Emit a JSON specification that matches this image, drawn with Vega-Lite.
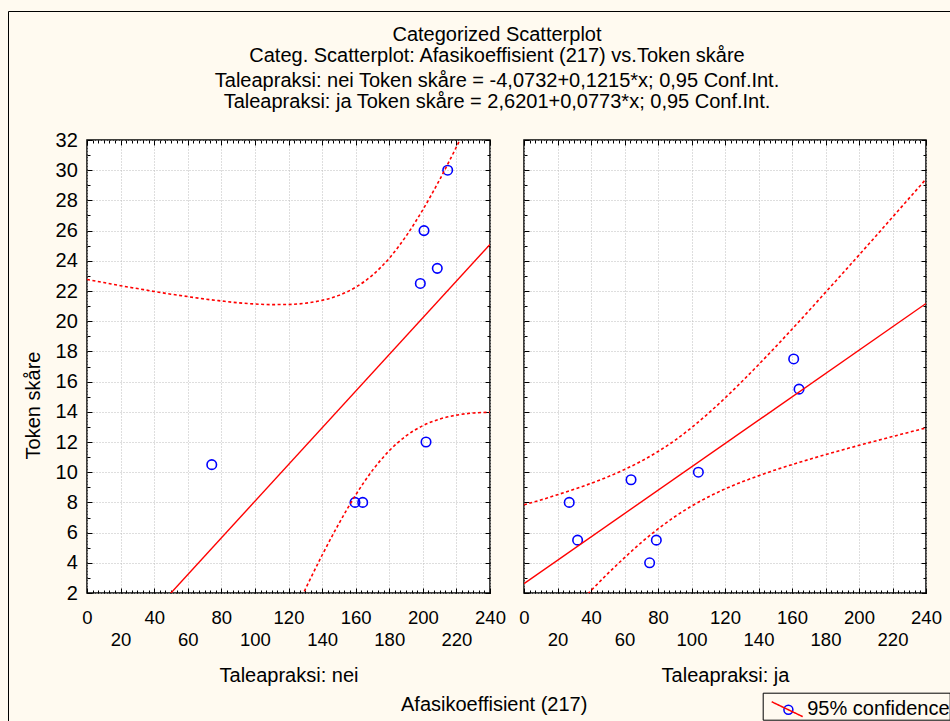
{
  "$schema": "https://vega.github.io/schema/vega-lite/v6.json",
  "background": "#fffaf0",
  "autosize": {"type": "none"},
  "padding": {"left": 87, "top": 140, "right": 863, "bottom": 581},
  "title": {
    "text": ["Categorized Scatterplot", "Categ. Scatterplot: Afasikoeffisient (217) vs.Token skåre"],
    "subtitle": ["Taleapraksi: nei Token skåre = -4,0732+0,1215*x; 0,95 Conf.Int.", "Taleapraksi: ja Token skåre = 2,6201+0,0773*x; 0,95 Conf.Int."],
    "anchor": "start", "frame": "group", "align": "center", "dx": 410, "offset": -102.5,
    "font": "Liberation Sans", "fontSize": 20, "fontWeight": "normal", "color": "black", "lineHeight": 21,
    "subtitleFont": "Liberation Sans", "subtitleFontSize": 20, "subtitleColor": "black", "subtitleLineHeight": 21, "subtitlePadding": 5
  },
  "datasets": {
    "pts": [
      {"panel": "nei", "afasi": 74.3, "token": 10.5},
      {"panel": "nei", "afasi": 159.6, "token": 8},
      {"panel": "nei", "afasi": 164.2, "token": 8},
      {"panel": "nei", "afasi": 201.9, "token": 12},
      {"panel": "nei", "afasi": 198.5, "token": 22.5},
      {"panel": "nei", "afasi": 200.7, "token": 26},
      {"panel": "nei", "afasi": 208.6, "token": 23.5},
      {"panel": "nei", "afasi": 214.8, "token": 30},
      {"panel": "ja", "afasi": 27, "token": 8},
      {"panel": "ja", "afasi": 32, "token": 5.5},
      {"panel": "ja", "afasi": 63.9, "token": 9.5},
      {"panel": "ja", "afasi": 75, "token": 4},
      {"panel": "ja", "afasi": 79, "token": 5.5},
      {"panel": "ja", "afasi": 104.1, "token": 10},
      {"panel": "ja", "afasi": 161, "token": 17.5},
      {"panel": "ja", "afasi": 164.2, "token": 15.5}
    ],
    "fit": [
      {"panel": "nei", "afasi": 0, "token": -4.0732},
      {"panel": "nei", "afasi": 240, "token": 25.0868},
      {"panel": "ja", "afasi": 0, "token": 2.6201},
      {"panel": "ja", "afasi": 240, "token": 21.1721}
    ],
    "band": [
      {"panel": "nei", "bound": "upper", "afasi": 0, "token": 22.76},
      {"panel": "nei", "bound": "upper", "afasi": 10, "token": 22.56},
      {"panel": "nei", "bound": "upper", "afasi": 20, "token": 22.35},
      {"panel": "nei", "bound": "upper", "afasi": 30, "token": 22.16},
      {"panel": "nei", "bound": "upper", "afasi": 40, "token": 21.97},
      {"panel": "nei", "bound": "upper", "afasi": 50, "token": 21.79},
      {"panel": "nei", "bound": "upper", "afasi": 60, "token": 21.63},
      {"panel": "nei", "bound": "upper", "afasi": 70, "token": 21.47},
      {"panel": "nei", "bound": "upper", "afasi": 80, "token": 21.34},
      {"panel": "nei", "bound": "upper", "afasi": 90, "token": 21.22},
      {"panel": "nei", "bound": "upper", "afasi": 100, "token": 21.14},
      {"panel": "nei", "bound": "upper", "afasi": 110, "token": 21.10},
      {"panel": "nei", "bound": "upper", "afasi": 120, "token": 21.11},
      {"panel": "nei", "bound": "upper", "afasi": 130, "token": 21.19},
      {"panel": "nei", "bound": "upper", "afasi": 140, "token": 21.38},
      {"panel": "nei", "bound": "upper", "afasi": 150, "token": 21.71},
      {"panel": "nei", "bound": "upper", "afasi": 160, "token": 22.25},
      {"panel": "nei", "bound": "upper", "afasi": 170, "token": 23.05},
      {"panel": "nei", "bound": "upper", "afasi": 180, "token": 24.17},
      {"panel": "nei", "bound": "upper", "afasi": 190, "token": 25.63},
      {"panel": "nei", "bound": "upper", "afasi": 200, "token": 27.38},
      {"panel": "nei", "bound": "upper", "afasi": 210, "token": 29.37},
      {"panel": "nei", "bound": "upper", "afasi": 220, "token": 31.54},
      {"panel": "nei", "bound": "upper", "afasi": 230, "token": 33.83},
      {"panel": "nei", "bound": "lower", "afasi": 110, "token": -2.51},
      {"panel": "nei", "bound": "lower", "afasi": 120, "token": -0.09},
      {"panel": "nei", "bound": "lower", "afasi": 130, "token": 2.25},
      {"panel": "nei", "bound": "lower", "afasi": 140, "token": 4.50},
      {"panel": "nei", "bound": "lower", "afasi": 150, "token": 6.59},
      {"panel": "nei", "bound": "lower", "afasi": 160, "token": 8.49},
      {"panel": "nei", "bound": "lower", "afasi": 170, "token": 10.12},
      {"panel": "nei", "bound": "lower", "afasi": 180, "token": 11.42},
      {"panel": "nei", "bound": "lower", "afasi": 190, "token": 12.40},
      {"panel": "nei", "bound": "lower", "afasi": 200, "token": 13.08},
      {"panel": "nei", "bound": "lower", "afasi": 210, "token": 13.52},
      {"panel": "nei", "bound": "lower", "afasi": 220, "token": 13.78},
      {"panel": "nei", "bound": "lower", "afasi": 230, "token": 13.92},
      {"panel": "nei", "bound": "lower", "afasi": 240, "token": 13.97},
      {"panel": "ja", "bound": "upper", "afasi": 0, "token": 7.84},
      {"panel": "ja", "bound": "upper", "afasi": 10, "token": 8.16},
      {"panel": "ja", "bound": "upper", "afasi": 20, "token": 8.51},
      {"panel": "ja", "bound": "upper", "afasi": 30, "token": 8.87},
      {"panel": "ja", "bound": "upper", "afasi": 40, "token": 9.26},
      {"panel": "ja", "bound": "upper", "afasi": 50, "token": 9.69},
      {"panel": "ja", "bound": "upper", "afasi": 60, "token": 10.18},
      {"panel": "ja", "bound": "upper", "afasi": 70, "token": 10.73},
      {"panel": "ja", "bound": "upper", "afasi": 80, "token": 11.37},
      {"panel": "ja", "bound": "upper", "afasi": 90, "token": 12.10},
      {"panel": "ja", "bound": "upper", "afasi": 100, "token": 12.95},
      {"panel": "ja", "bound": "upper", "afasi": 110, "token": 13.89},
      {"panel": "ja", "bound": "upper", "afasi": 120, "token": 14.91},
      {"panel": "ja", "bound": "upper", "afasi": 130, "token": 15.99},
      {"panel": "ja", "bound": "upper", "afasi": 140, "token": 17.12},
      {"panel": "ja", "bound": "upper", "afasi": 150, "token": 18.28},
      {"panel": "ja", "bound": "upper", "afasi": 160, "token": 19.47},
      {"panel": "ja", "bound": "upper", "afasi": 170, "token": 20.68},
      {"panel": "ja", "bound": "upper", "afasi": 180, "token": 21.91},
      {"panel": "ja", "bound": "upper", "afasi": 190, "token": 23.14},
      {"panel": "ja", "bound": "upper", "afasi": 200, "token": 24.38},
      {"panel": "ja", "bound": "upper", "afasi": 210, "token": 25.63},
      {"panel": "ja", "bound": "upper", "afasi": 220, "token": 26.89},
      {"panel": "ja", "bound": "upper", "afasi": 230, "token": 28.15},
      {"panel": "ja", "bound": "upper", "afasi": 240, "token": 29.41},
      {"panel": "ja", "bound": "lower", "afasi": 20, "token": -0.17},
      {"panel": "ja", "bound": "lower", "afasi": 30, "token": 1.01},
      {"panel": "ja", "bound": "lower", "afasi": 40, "token": 2.16},
      {"panel": "ja", "bound": "lower", "afasi": 50, "token": 3.28},
      {"panel": "ja", "bound": "lower", "afasi": 60, "token": 4.34},
      {"panel": "ja", "bound": "lower", "afasi": 70, "token": 5.34},
      {"panel": "ja", "bound": "lower", "afasi": 80, "token": 6.24},
      {"panel": "ja", "bound": "lower", "afasi": 90, "token": 7.05},
      {"panel": "ja", "bound": "lower", "afasi": 100, "token": 7.75},
      {"panel": "ja", "bound": "lower", "afasi": 110, "token": 8.36},
      {"panel": "ja", "bound": "lower", "afasi": 120, "token": 8.89},
      {"panel": "ja", "bound": "lower", "afasi": 130, "token": 9.35},
      {"panel": "ja", "bound": "lower", "afasi": 140, "token": 9.76},
      {"panel": "ja", "bound": "lower", "afasi": 150, "token": 10.15},
      {"panel": "ja", "bound": "lower", "afasi": 160, "token": 10.50},
      {"panel": "ja", "bound": "lower", "afasi": 170, "token": 10.84},
      {"panel": "ja", "bound": "lower", "afasi": 180, "token": 11.16},
      {"panel": "ja", "bound": "lower", "afasi": 190, "token": 11.47},
      {"panel": "ja", "bound": "lower", "afasi": 200, "token": 11.78},
      {"panel": "ja", "bound": "lower", "afasi": 210, "token": 12.07},
      {"panel": "ja", "bound": "lower", "afasi": 220, "token": 12.36},
      {"panel": "ja", "bound": "lower", "afasi": 230, "token": 12.65},
      {"panel": "ja", "bound": "lower", "afasi": 240, "token": 12.93}
    ]
  },
  "spacing": 34,
  "bounds": "flush",
  "resolve": {"scale": {"color": "independent", "stroke": "independent"}, "legend": {"color": "independent", "stroke": "independent"}},
  "hconcat": [
    {
      "width": 403,
      "height": 453,
      "resolve": {"axis": {"x": "independent", "y": "independent"}},
      "layer": [
        {
          "data": {"name": "pts"},
          "transform": [{"filter": "datum.panel === 'nei'"}],
          "mark": {"type": "point", "shape": "circle", "filled": false, "stroke": "#0000ff", "strokeWidth": 1.6, "size": 90, "opacity": 1},
          "encoding": {
            "x": {"field": "afasi", "type": "quantitative", "scale": {"domain": [0, 240], "nice": false, "zero": false},
              "axis": {"orient": "bottom", "values": [0, 20, 40, 60, 80, 100, 120, 140, 160, 180, 200, 220, 240], "format": "d", "labelExpr": "datum.value % 40 == 0 ? datum.label : ''", "tickSize": -5, "labelPadding": 20.7, "grid": true,
                "title": "Taleapraksi: nei", "titleX": 201.5, "titleY": 88.7, "titleBaseline": "alphabetic", "titleAlign": "center"}},
            "y": {"field": "token", "type": "quantitative", "scale": {"domain": [2, 32], "nice": false, "zero": false},
              "axis": {"orient": "left", "values": [2, 4, 6, 8, 10, 12, 14, 16, 18, 20, 22, 24, 26, 28, 30, 32], "format": "d", "tickSize": -5, "labelPadding": 14.7, "labelFontSize": 20, "grid": true,
                "title": "Token skåre", "titleFontSize": 20, "titleX": -54, "titleY": 265, "titleAngle": -90, "titleAlign": "center", "titleBaseline": "middle"}}
          }
        },
        {
          "data": {"name": "fit"},
          "transform": [{"filter": "datum.panel === 'nei'"}],
          "mark": {"type": "line", "color": "#ff0000", "strokeWidth": 1.4, "clip": true},
          "encoding": {
            "x": {"field": "afasi", "type": "quantitative", "axis": {"orient": "top", "values": [0, 20, 40, 60, 80, 100, 120, 140, 160, 180, 200, 220, 240], "labels": false, "tickSize": -5, "grid": false, "title": null}},
            "y": {"field": "token", "type": "quantitative", "axis": {"orient": "right", "values": [2, 4, 6, 8, 10, 12, 14, 16, 18, 20, 22, 24, 26, 28, 30, 32], "labels": false, "tickSize": -5, "grid": false, "title": null}}
          }
        },
        {
          "data": {"name": "band"},
          "transform": [{"filter": "datum.panel === 'nei' && datum.bound === 'upper'"}],
          "mark": {"type": "line", "strokeDash": [3, 2.5], "strokeWidth": 1.6, "clip": true, "interpolate": "monotone"},
          "encoding": {
            "x": {"field": "afasi", "type": "quantitative", "axis": {"orient": "bottom", "values": [0, 3.333, 6.667, 10, 13.333, 16.667, 20, 23.333, 26.667, 30, 33.333, 36.667, 40, 43.333, 46.667, 50, 53.333, 56.667, 60, 63.333, 66.667, 70, 73.333, 76.667, 80, 83.333, 86.667, 90, 93.333, 96.667, 100, 103.333, 106.667, 110, 113.333, 116.667, 120, 123.333, 126.667, 130, 133.333, 136.667, 140, 143.333, 146.667, 150, 153.333, 156.667, 160, 163.333, 166.667, 170, 173.333, 176.667, 180, 183.333, 186.667, 190, 193.333, 196.667, 200, 203.333, 206.667, 210, 213.333, 216.667, 220, 223.333, 226.667, 230, 233.333, 236.667, 240],
              "format": "d", "labelExpr": "datum.value % 40 == 20 ? datum.label : ''", "tickSize": -3, "labelPadding": 40.4, "grid": false,
              "title": "Afasikoeffisient (217)", "titleFontSize": 20, "titleX": 406.7, "titleY": 117, "titleBaseline": "alphabetic", "titleAlign": "center"}},
            "y": {"field": "token", "type": "quantitative", "axis": {"orient": "left", "values": [2, 3, 4, 5, 6, 7, 8, 9, 10, 11, 12, 13, 14, 15, 16, 17, 18, 19, 20, 21, 22, 23, 24, 25, 26, 27, 28, 29, 30, 31, 32], "labels": false, "tickSize": -3, "grid": false, "title": null}},
            "color": {"datum": "95% confidence", "scale": {"range": ["#ff0000"]},
              "legend": {"orient": "none", "legendX": -79, "legendY": -129, "title": null, "padding": 480, "strokeColor": "black", "fillColor": null, "symbolOpacity": 0, "labelExpr": "''"}}
          }
        },
        {
          "data": {"name": "band"},
          "transform": [{"filter": "datum.panel === 'nei' && datum.bound === 'lower'"}],
          "mark": {"type": "line", "strokeDash": [3, 2.5], "strokeWidth": 1.6, "clip": true, "interpolate": "monotone"},
          "encoding": {
            "x": {"field": "afasi", "type": "quantitative", "axis": {"orient": "top", "values": [0, 3.333, 6.667, 10, 13.333, 16.667, 20, 23.333, 26.667, 30, 33.333, 36.667, 40, 43.333, 46.667, 50, 53.333, 56.667, 60, 63.333, 66.667, 70, 73.333, 76.667, 80, 83.333, 86.667, 90, 93.333, 96.667, 100, 103.333, 106.667, 110, 113.333, 116.667, 120, 123.333, 126.667, 130, 133.333, 136.667, 140, 143.333, 146.667, 150, 153.333, 156.667, 160, 163.333, 166.667, 170, 173.333, 176.667, 180, 183.333, 186.667, 190, 193.333, 196.667, 200, 203.333, 206.667, 210, 213.333, 216.667, 220, 223.333, 226.667, 230, 233.333, 236.667, 240],
              "labels": false, "tickSize": -3, "grid": false, "title": null}},
            "y": {"field": "token", "type": "quantitative", "axis": {"orient": "right", "values": [2, 3, 4, 5, 6, 7, 8, 9, 10, 11, 12, 13, 14, 15, 16, 17, 18, 19, 20, 21, 22, 23, 24, 25, 26, 27, 28, 29, 30, 31, 32], "labels": false, "tickSize": -3, "grid": false, "title": null}},
            "color": {"datum": "95% confidence", "scale": {"range": ["#ff0000"]},
              "legend": {"orient": "none", "legendX": -79, "legendY": -129, "title": null, "padding": 480, "strokeColor": "black", "fillColor": null, "symbolOpacity": 0, "labelExpr": "''"}}
          }
        }
      ]
    },
    {
      "width": 402,
      "height": 453,
      "resolve": {"axis": {"x": "independent", "y": "independent"}},
      "layer": [
        {
          "data": {"name": "pts"},
          "transform": [{"filter": "datum.panel === 'ja'"}],
          "mark": {"type": "point", "shape": "circle", "filled": false, "strokeWidth": 1.6, "size": 90, "opacity": 1},
          "encoding": {
            "x": {"field": "afasi", "type": "quantitative", "scale": {"domain": [0, 240], "nice": false, "zero": false},
              "axis": {"orient": "bottom", "values": [0, 20, 40, 60, 80, 100, 120, 140, 160, 180, 200, 220, 240], "format": "d", "labelExpr": "datum.value % 40 == 0 ? datum.label : ''", "tickSize": -5, "labelPadding": 20.7, "grid": true,
                "title": "Taleapraksi: ja", "titleX": 201, "titleY": 88.7, "titleBaseline": "alphabetic", "titleAlign": "center"}},
            "y": {"field": "token", "type": "quantitative", "scale": {"domain": [2, 32], "nice": false, "zero": false},
              "axis": {"orient": "left", "values": [2, 4, 6, 8, 10, 12, 14, 16, 18, 20, 22, 24, 26, 28, 30, 32], "labels": false, "tickSize": -5, "grid": true, "title": null}},
            "stroke": {"datum": "points", "scale": {"range": ["#0000ff"]},
              "legend": {"orient": "none", "legendX": 254.4, "legendY": 559.8, "title": null, "padding": 0, "symbolType": "circle", "symbolSize": 80, "symbolStrokeWidth": 1.5, "symbolFillColor": "#fffaf0", "labelExpr": "''"}}
          }
        },
        {
          "data": {"name": "fit"},
          "transform": [{"filter": "datum.panel === 'ja'"}],
          "mark": {"type": "line", "color": "#ff0000", "strokeWidth": 1.4, "clip": true},
          "encoding": {
            "x": {"field": "afasi", "type": "quantitative", "axis": {"orient": "top", "values": [0, 20, 40, 60, 80, 100, 120, 140, 160, 180, 200, 220, 240], "labels": false, "tickSize": -5, "grid": false, "title": null}},
            "y": {"field": "token", "type": "quantitative", "axis": {"orient": "right", "values": [2, 4, 6, 8, 10, 12, 14, 16, 18, 20, 22, 24, 26, 28, 30, 32], "labels": false, "tickSize": -5, "grid": false, "title": null}}
          }
        },
        {
          "data": {"name": "band"},
          "transform": [{"filter": "datum.panel === 'ja' && datum.bound === 'upper'"}],
          "mark": {"type": "line", "strokeDash": [3, 2.5], "strokeWidth": 1.6, "clip": true, "interpolate": "monotone"},
          "encoding": {
            "x": {"field": "afasi", "type": "quantitative", "axis": {"orient": "bottom", "values": [0, 3.333, 6.667, 10, 13.333, 16.667, 20, 23.333, 26.667, 30, 33.333, 36.667, 40, 43.333, 46.667, 50, 53.333, 56.667, 60, 63.333, 66.667, 70, 73.333, 76.667, 80, 83.333, 86.667, 90, 93.333, 96.667, 100, 103.333, 106.667, 110, 113.333, 116.667, 120, 123.333, 126.667, 130, 133.333, 136.667, 140, 143.333, 146.667, 150, 153.333, 156.667, 160, 163.333, 166.667, 170, 173.333, 176.667, 180, 183.333, 186.667, 190, 193.333, 196.667, 200, 203.333, 206.667, 210, 213.333, 216.667, 220, 223.333, 226.667, 230, 233.333, 236.667, 240],
              "format": "d", "labelExpr": "datum.value % 40 == 20 ? datum.label : ''", "tickSize": -3, "labelPadding": 40.4, "grid": false, "title": null}},
            "y": {"field": "token", "type": "quantitative", "axis": {"orient": "left", "values": [2, 3, 4, 5, 6, 7, 8, 9, 10, 11, 12, 13, 14, 15, 16, 17, 18, 19, 20, 21, 22, 23, 24, 25, 26, 27, 28, 29, 30, 31, 32], "labels": false, "tickSize": -3, "grid": false, "title": null}},
            "color": {"datum": "95% confidence", "scale": {"range": ["#ff0000"]},
              "legend": {"orient": "none", "legendX": 238.7, "legendY": 552.7, "title": null, "padding": 0, "strokeColor": "black", "fillColor": null, "symbolType": "M-1,-0.48L1,0.48", "symbolSize": 961, "symbolStrokeWidth": 1.5, "symbolDash": [1, 0], "symbolOffset": 8, "labelOffset": 3.5, "labelFontSize": 20}}
          }
        },
        {
          "data": {"name": "band"},
          "transform": [{"filter": "datum.panel === 'ja' && datum.bound === 'lower'"}],
          "mark": {"type": "line", "strokeDash": [3, 2.5], "strokeWidth": 1.6, "clip": true, "interpolate": "monotone"},
          "encoding": {
            "x": {"field": "afasi", "type": "quantitative", "axis": {"orient": "top", "values": [0, 3.333, 6.667, 10, 13.333, 16.667, 20, 23.333, 26.667, 30, 33.333, 36.667, 40, 43.333, 46.667, 50, 53.333, 56.667, 60, 63.333, 66.667, 70, 73.333, 76.667, 80, 83.333, 86.667, 90, 93.333, 96.667, 100, 103.333, 106.667, 110, 113.333, 116.667, 120, 123.333, 126.667, 130, 133.333, 136.667, 140, 143.333, 146.667, 150, 153.333, 156.667, 160, 163.333, 166.667, 170, 173.333, 176.667, 180, 183.333, 186.667, 190, 193.333, 196.667, 200, 203.333, 206.667, 210, 213.333, 216.667, 220, 223.333, 226.667, 230, 233.333, 236.667, 240],
              "labels": false, "tickSize": -3, "grid": false, "title": null}},
            "y": {"field": "token", "type": "quantitative", "axis": {"orient": "right", "values": [2, 3, 4, 5, 6, 7, 8, 9, 10, 11, 12, 13, 14, 15, 16, 17, 18, 19, 20, 21, 22, 23, 24, 25, 26, 27, 28, 29, 30, 31, 32], "labels": false, "tickSize": -3, "grid": false, "title": null}},
            "color": {"datum": "95% confidence", "scale": {"range": ["#ff0000"]},
              "legend": {"orient": "none", "legendX": 238.7, "legendY": 552.7, "title": null, "padding": 0, "strokeColor": "black", "fillColor": null, "symbolType": "M-1,-0.48L1,0.48", "symbolSize": 961, "symbolStrokeWidth": 1.5, "symbolDash": [1, 0], "symbolOffset": 8, "labelOffset": 3.5, "labelFontSize": 20}}
          }
        }
      ]
    }
  ],
  "config": {
    "view": {"stroke": "black", "strokeWidth": 1.5, "fill": "white"},
    "axis": {
      "labelFont": "Liberation Sans", "labelFontSize": 18.5, "labelColor": "black",
      "titleFont": "Liberation Sans", "titleFontSize": 20, "titleFontWeight": "normal", "titleColor": "black",
      "tickColor": "black", "tickWidth": 1, "domain": false, "labelFlush": false, "labelOverlap": false,
      "gridColor": "#bcbcbc", "gridDash": [1, 2], "gridWidth": 1
    },
    "legend": {"labelFont": "Liberation Sans", "labelFontSize": 20, "labelColor": "black"}
  }
}
